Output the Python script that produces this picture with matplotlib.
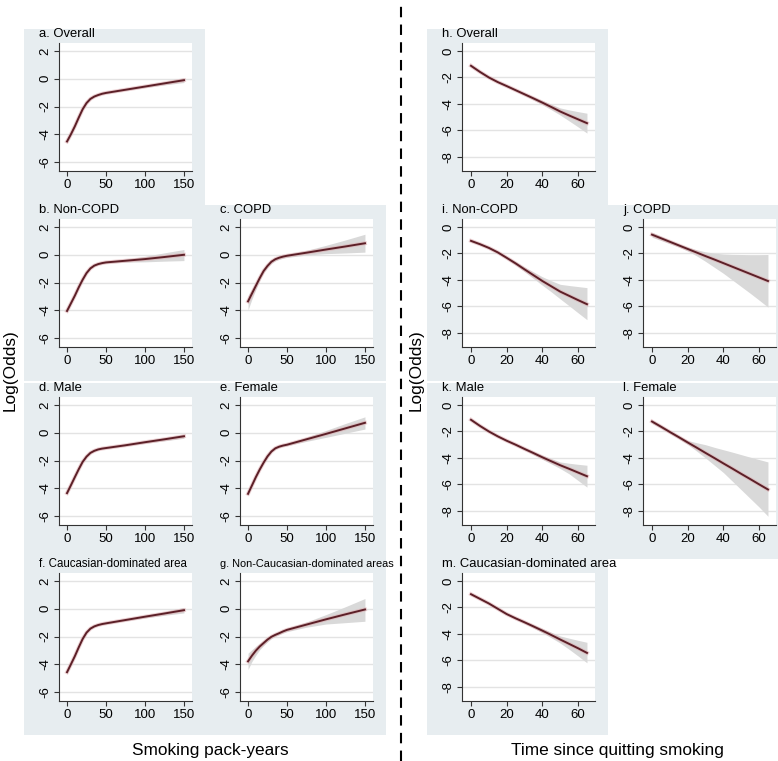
import matplotlib
matplotlib.use('Agg')
import matplotlib.pyplot as plt
from matplotlib.patches import Rectangle
from matplotlib.lines import Line2D

plt.rcParams['font.family'] = ['Liberation Sans', 'DejaVu Sans']
plt.rcParams['axes.unicode_minus'] = False

# pack-years panels (a-g)
py_x = [0, 5, 10, 15, 20, 25, 30, 35, 40, 45, 50, 75, 100, 125, 150]

a_fit = [-4.52, -4.0, -3.43, -2.8, -2.2, -1.75, -1.45, -1.28, -1.17, -1.08, -1.02, -0.79, -0.56, -0.33, -0.1]
a_lo = [-4.62, -4.06, -3.48, -2.85, -2.25, -1.8, -1.5, -1.32, -1.21, -1.12, -1.06, -0.84, -0.63, -0.44, -0.27]
a_hi = [-4.42, -3.94, -3.38, -2.75, -2.15, -1.7, -1.4, -1.24, -1.13, -1.04, -0.98, -0.74, -0.49, -0.22, 0.07]

b_fit = [-4.05, -3.5, -2.95, -2.35, -1.8, -1.32, -0.98, -0.78, -0.67, -0.6, -0.55, -0.43, -0.31, -0.16, 0.0]
b_lo = [-4.14, -3.56, -3.0, -2.4, -1.85, -1.37, -1.03, -0.83, -0.72, -0.65, -0.61, -0.53, -0.51, -0.46, -0.42]
b_hi = [-3.96, -3.44, -2.9, -2.3, -1.75, -1.27, -0.93, -0.73, -0.62, -0.55, -0.49, -0.33, -0.11, 0.14, 0.38]

c_fit = [-3.36, -2.8, -2.24, -1.68, -1.17, -0.8, -0.5, -0.32, -0.21, -0.13, -0.07, 0.15, 0.38, 0.6, 0.83]
c_lo = [-3.98, -3.2, -2.5, -1.85, -1.3, -0.92, -0.62, -0.44, -0.33, -0.25, -0.19, -0.02, 0.08, 0.13, 0.19]
c_hi = [-2.95, -2.45, -1.98, -1.5, -1.04, -0.68, -0.38, -0.2, -0.09, -0.01, 0.05, 0.32, 0.68, 1.07, 1.48]

d_fit = [-4.35, -3.78, -3.2, -2.63, -2.1, -1.72, -1.45, -1.3, -1.2, -1.14, -1.1, -0.9, -0.68, -0.47, -0.25]
d_lo = [-4.44, -3.84, -3.25, -2.67, -2.14, -1.76, -1.49, -1.34, -1.24, -1.18, -1.14, -0.95, -0.76, -0.58, -0.4]
d_hi = [-4.26, -3.72, -3.15, -2.59, -2.06, -1.68, -1.41, -1.26, -1.16, -1.1, -1.06, -0.85, -0.6, -0.36, -0.1]

e_fit = [-4.4, -3.8, -3.2, -2.65, -2.15, -1.7, -1.35, -1.12, -1.0, -0.92, -0.86, -0.47, -0.08, 0.32, 0.72]
e_lo = [-4.53, -3.88, -3.27, -2.71, -2.21, -1.76, -1.41, -1.18, -1.06, -0.98, -0.93, -0.62, -0.33, -0.03, 0.27]
e_hi = [-4.27, -3.72, -3.13, -2.59, -2.09, -1.64, -1.29, -1.06, -0.94, -0.86, -0.79, -0.32, 0.17, 0.67, 1.15]

f_fit = [-4.57, -4.0, -3.42, -2.78, -2.18, -1.72, -1.43, -1.27, -1.17, -1.1, -1.05, -0.81, -0.57, -0.34, -0.1]
f_lo = [-4.68, -4.07, -3.47, -2.83, -2.23, -1.77, -1.48, -1.32, -1.22, -1.15, -1.1, -0.87, -0.66, -0.47, -0.3]
f_hi = [-4.46, -3.93, -3.37, -2.73, -2.13, -1.67, -1.38, -1.22, -1.12, -1.05, -1.0, -0.75, -0.48, -0.21, 0.1]

g_fit = [-3.79, -3.38, -3.02, -2.72, -2.47, -2.22, -2.02, -1.88, -1.76, -1.63, -1.52, -1.14, -0.76, -0.4, -0.05]
g_lo = [-4.38, -3.8, -3.35, -2.95, -2.65, -2.38, -2.15, -1.99, -1.87, -1.75, -1.65, -1.33, -1.1, -1.0, -0.9]
g_hi = [-3.2, -2.95, -2.7, -2.48, -2.28, -2.07, -1.9, -1.77, -1.65, -1.52, -1.4, -0.95, -0.42, 0.15, 0.74]

# time since quitting panels (h-m)
q_x = [0, 5, 10, 15, 20, 25, 30, 35, 40, 45, 50, 55, 60, 65]

h_fit = [-1.12, -1.58, -2.0, -2.35, -2.65, -2.96, -3.27, -3.58, -3.9, -4.23, -4.57, -4.87, -5.16, -5.45]
h_lo = [-1.2, -1.64, -2.05, -2.4, -2.71, -3.03, -3.36, -3.7, -4.06, -4.44, -4.84, -5.28, -5.73, -6.2]
h_hi = [-1.04, -1.52, -1.95, -2.3, -2.59, -2.89, -3.18, -3.46, -3.74, -4.02, -4.3, -4.45, -4.58, -4.7]

i_fit = [-1.05, -1.3, -1.58, -1.92, -2.33, -2.75, -3.2, -3.64, -4.08, -4.48, -4.88, -5.2, -5.52, -5.83]
i_lo = [-1.12, -1.36, -1.64, -1.99, -2.42, -2.88, -3.38, -3.89, -4.4, -4.9, -5.43, -5.95, -6.48, -7.0]
i_hi = [-0.98, -1.24, -1.52, -1.85, -2.24, -2.62, -3.02, -3.39, -3.76, -4.06, -4.33, -4.42, -4.5, -4.58]

j_fit = [-0.58, -0.85, -1.12, -1.39, -1.66, -1.93, -2.2, -2.46, -2.73, -3.0, -3.27, -3.54, -3.81, -4.08]
j_lo = [-0.78, -1.02, -1.27, -1.52, -1.82, -2.18, -2.6, -3.05, -3.5, -4.0, -4.5, -5.0, -5.52, -6.05]
j_hi = [-0.4, -0.7, -1.0, -1.28, -1.52, -1.72, -1.88, -1.98, -2.04, -2.07, -2.08, -2.09, -2.09, -2.08]

k_fit = [-1.12, -1.58, -2.0, -2.37, -2.7, -3.0, -3.32, -3.63, -3.95, -4.25, -4.55, -4.82, -5.1, -5.38]
k_lo = [-1.2, -1.64, -2.05, -2.42, -2.76, -3.07, -3.41, -3.75, -4.11, -4.45, -4.8, -5.2, -5.7, -6.2]
k_hi = [-1.04, -1.52, -1.95, -2.32, -2.64, -2.93, -3.23, -3.51, -3.79, -4.05, -4.3, -4.4, -4.48, -4.55]

l_fit = [-1.25, -1.64, -2.04, -2.43, -2.83, -3.22, -3.62, -4.01, -4.41, -4.8, -5.2, -5.59, -5.99, -6.38]
l_lo = [-1.38, -1.76, -2.15, -2.55, -2.98, -3.48, -4.0, -4.55, -5.1, -5.75, -6.4, -7.05, -7.7, -8.4]
l_hi = [-1.12, -1.52, -1.93, -2.32, -2.68, -2.85, -3.0, -3.2, -3.38, -3.56, -3.75, -3.94, -4.12, -4.3]

m_fit = [-1.0, -1.35, -1.7, -2.1, -2.5, -2.82, -3.12, -3.43, -3.75, -4.08, -4.42, -4.75, -5.08, -5.43]
m_lo = [-1.08, -1.41, -1.75, -2.15, -2.56, -2.89, -3.21, -3.55, -3.91, -4.29, -4.69, -5.16, -5.66, -6.18]
m_hi = [-0.92, -1.29, -1.65, -2.05, -2.44, -2.75, -3.03, -3.31, -3.59, -3.87, -4.15, -4.32, -4.48, -4.63]

W, H = 778, 761
BG = '#e7edf0'
LINE = '#5c1f27'

fig = plt.figure(figsize=(W / 100, H / 100), dpi=100)


def panel(left, top, xs, fit, lo, hi, title, tsize, xlim, ylim, xticks, yticks):
    # grey-blue graph region behind each small plot
    fig.patches.append(Rectangle(((left - 35) / W, 1 - (top + 162) / H), 181 / W, 176 / H,
                                 transform=fig.transFigure, facecolor=BG,
                                 edgecolor='none', zorder=-5))
    ax = fig.add_axes([left / W, 1 - (top + 128) / H, 133 / W, 128 / H])
    ax.set_facecolor('white')
    ax.fill_between(xs, lo, hi, color='#d9d9d9', lw=0, zorder=2)
    ax.plot(xs, fit, color='#dba9ad', lw=2.8, alpha=0.55, zorder=3)
    ax.plot(xs, fit, color=LINE, lw=1.4, zorder=4)
    ax.set_xlim(xlim)
    ax.set_ylim(ylim)
    ax.set_xticks(xticks)
    ax.set_yticks(yticks)
    ax.yaxis.grid(True, color='#e3e3e3', lw=1.0)
    ax.set_axisbelow(True)
    for s in ['top', 'right']:
        ax.spines[s].set_visible(False)
    for s in ['left', 'bottom']:
        ax.spines[s].set_color('#333333')
        ax.spines[s].set_linewidth(0.8)
    ax.tick_params(length=3.6, width=0.8, color='#333333', labelsize=9.5, pad=2)
    for t in ax.get_yticklabels():
        t.set_rotation(90)
        t.set_va('center')
    fig.text((left - 20) / W, 1 - (top - 9) / H, title, fontsize=tsize,
             ha='left', va='center')


left_lim = dict(xlim=(-10.3, 160.3), ylim=(-6.65, 2.58),
                xticks=[0, 50, 100, 150], yticks=[-6, -4, -2, 0, 2])
right_lim = dict(xlim=(-5.05, 69.5), ylim=(-9.06, 0.6),
                 xticks=[0, 20, 40, 60], yticks=[-8, -6, -4, -2, 0])

rows = [43, 219, 397, 573]

panel(59, rows[0], py_x, a_fit, a_lo, a_hi, 'a. Overall', 9.4, **left_lim)
panel(59, rows[1], py_x, b_fit, b_lo, b_hi, 'b. Non-COPD', 9.4, **left_lim)
panel(240, rows[1], py_x, c_fit, c_lo, c_hi, 'c. COPD', 9.4, **left_lim)
panel(59, rows[2], py_x, d_fit, d_lo, d_hi, 'd. Male', 9.4, **left_lim)
panel(240, rows[2], py_x, e_fit, e_lo, e_hi, 'e. Female', 9.4, **left_lim)
panel(59, rows[3], py_x, f_fit, f_lo, f_hi, 'f. Caucasian-dominated area', 8.3, **left_lim)
panel(240, rows[3], py_x, g_fit, g_lo, g_hi, 'g. Non-Caucasian-dominated areas', 7.9, **left_lim)

panel(462, rows[0], q_x, h_fit, h_lo, h_hi, 'h. Overall', 9.4, **right_lim)
panel(462, rows[1], q_x, i_fit, i_lo, i_hi, 'i. Non-COPD', 9.4, **right_lim)
panel(643, rows[1], q_x, j_fit, j_lo, j_hi, 'j. COPD', 9.4, **right_lim)
panel(462, rows[2], q_x, k_fit, k_lo, k_hi, 'k. Male', 9.4, **right_lim)
panel(643, rows[2], q_x, l_fit, l_lo, l_hi, 'l. Female', 9.4, **right_lim)
panel(462, rows[3], q_x, m_fit, m_lo, m_hi, 'm. Caucasian-dominated area', 9.4, **right_lim)

# axis titles
fig.text(10 / W, 1 - 370 / H, 'Log(Odds)', rotation=90, fontsize=12.4, ha='center', va='center')
fig.text(416 / W, 1 - 370 / H, 'Log(Odds)', rotation=90, fontsize=12.4, ha='center', va='center')
fig.text(210 / W, 1 - 750 / H, 'Smoking pack-years', fontsize=12.4, ha='center', va='center')
fig.text(617 / W, 1 - 750 / H, 'Time since quitting smoking', fontsize=12.4, ha='center', va='center')

# dashed separator
fig.add_artist(Line2D([401 / W, 401 / W], [0, 1], transform=fig.transFigure,
                      color='black', lw=1.5, dashes=(5, 3.5)))

fig.savefig('out.png', dpi=100)
